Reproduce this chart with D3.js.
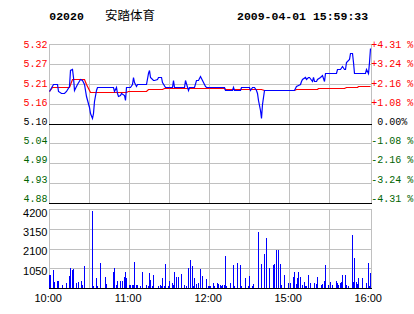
<!DOCTYPE html>
<html><head><meta charset="utf-8">
<script src="https://cdn.jsdelivr.net/npm/d3@7"></script>
<style>body{margin:0;background:#fff}svg{display:block}</style>
</head><body><div id="chart"></div>
<script>
const stockCode = "02020";
const stockName = "安踏体育";
const stamp = "2009-04-01 15:59:33";
const prevClose = 5.10;
const priceTicks = ["5.32","5.27","5.21","5.16","5.10","5.04","4.99","4.93","4.88"];
const pctTicks = ["+4.31 %","+3.24 %","+2.16 %","+1.08 %"," 0.00%","-1.08 %","-2.16 %","-3.24 %","-4.31 %"];
const volTicks = ["4200","3150","2100","1050"];
const timeLabels = ["10:00","11:00","12:00","15:00","16:00"];
const timeLabelMin = [0, 60, 120, 180, 240];

// minute index (0 = 10:00) and price
const priceMin = [0,3,6,7,9,11,13,15,16,17,18,19,21,23,25,26,27,28,30,31,32,33,34,35,36,48,49,50,51,52,53,54,56,57,58,61,62,63,64,65,66,73,74,75,76,78,79,
81,82,84,85,87,92,93,94,101,102,104,105,109,110,112,113,115,117,118,131,132,137,138,139,143,144,150,151,152,154,155,156,157,158,159,160,161,
184,185,187,188,189,190,192,193,194,195,197,198,199,200,201,203,205,206,207,215,216,218,220,221,222,223,225,226,227,228,229,237,238,239,240,241];
const price = [5.19,5.21,5.21,5.189,5.184,5.184,5.19,5.205,5.248,5.25,5.23,5.193,5.21,5.223,5.22,5.21,5.193,5.175,5.147,5.128,5.115,5.13,5.161,5.193,5.202,5.202,5.19,5.202,5.184,5.175,5.18,5.184,5.18,5.165,5.202,5.202,5.21,5.23,5.215,5.205,5.21,5.21,5.239,5.248,5.23,5.22,5.219,
5.223,5.23,5.23,5.215,5.202,5.202,5.219,5.202,5.202,5.219,5.193,5.202,5.202,5.219,5.219,5.232,5.219,5.205,5.202,5.202,5.193,5.193,5.202,5.193,5.193,5.202,5.202,5.193,5.202,5.202,5.193,5.184,5.165,5.138,5.115,5.155,5.193,
5.193,5.204,5.207,5.21,5.218,5.222,5.23,5.222,5.23,5.23,5.218,5.23,5.218,5.218,5.222,5.23,5.233,5.218,5.239,5.239,5.25,5.25,5.259,5.25,5.25,5.269,5.278,5.296,5.296,5.269,5.241,5.241,5.25,5.241,5.27,5.31];

const avgMin = [0,2,15,17,26,28,31,58,59,73,74,85,86,125,126,131,132,159,161,184,185,201,202,220,221,223,231,232,241];
const avg = [5.19,5.202,5.202,5.223,5.223,5.21,5.186,5.186,5.19,5.19,5.195,5.195,5.197,5.197,5.199,5.199,5.196,5.196,5.193,5.193,5.195,5.195,5.197,5.197,5.199,5.202,5.202,5.205,5.205];

const volMin = [0,1,3,4,6,7,10,13,15,16,17,18,20,22,24,25,26,32,33,35,36,38,42,43,48,49,50,51,53,55,56,57,58,60,61,62,63,64,65,66,68,70,73,74,75,76,77,78,
82,83,84,85,86,87,89,90,92,93,94,95,97,99,101,103,104,106,107,108,109,110,112,113,115,118,119,120,121,
123,124,126,127,128,129,130,131,132,133,136,138,139,141,143,144,147,149,150,152,153,157,159,161,163,165,168,169,170,172,173,174,176,179,181,
183,184,185,186,187,188,190,191,192,193,194,196,199,200,201,204,205,206,207,209,211,212,215,216,217,218,219,220,222,223,224,227,228,229,230,231,232,235,238,239,240,241];
const vol = [708,708,973,301,389,389,142,265,655,1080,973,1009,265,319,389,142,1186,4071,124,531,124,1327,602,230,850,1080,177,389,389,389,602,867,549,177,177,177,177,1398,177,177,124,867,177,106,797,443,124,708,
124,177,124,549,124,1292,124,389,283,177,867,602,602,761,177,124,1080,1504,1186,124,549,230,283,1027,655,496,124,124,124,
283,124,283,230,177,124,177,177,1717,124,283,1239,124,1345,1239,124,549,124,655,124,230,2991,1292,1823,2673,1080,1239,1292,2035,2035,1292,177,708,283,283,
602,867,230,549,867,602,177,336,124,124,708,283,283,230,602,177,230,389,1239,177,336,177,389,283,177,283,336,708,708,177,124,2832,336,1611,336,230,549,549,283,1345,124,814];

const W = 414, H = 314;
const svg = d3.select("#chart").append("svg").attr("width", W).attr("height", H)
  .style("background", "#fff");

const x = d3.scaleLinear().domain([0, 241.5]).range([49, 371]);
const y = d3.scaleLinear().domain([prevClose - 0.22, prevClose + 0.22]).range([203, 44]);
const yv = d3.scaleLinear().domain([0, 4200]).range([288, 209]);
const px = v => Math.round(v) + 0.5;

const GRID = "#C0C0C0";
const gridMins = d3.range(0, 211, 30);

function hline(g, yy, x0, x1, c) {
  g.append("line").attr("x1", x0).attr("x2", x1 + 1).attr("y1", px(yy)).attr("y2", px(yy))
    .attr("stroke", c).attr("stroke-width", 1).attr("shape-rendering", "crispEdges");
}
function vline(g, xx, y0, y1, c) {
  g.append("line").attr("x1", px(xx)).attr("x2", px(xx)).attr("y1", Math.round(y0)).attr("y2", Math.round(y1) + 1)
    .attr("stroke", c).attr("stroke-width", 1).attr("shape-rendering", "crispEdges");
}

// Price panel grid
const gp = svg.append("g");
const pLevels = d3.range(9).map(i => y.domain()[1] - i * (y.domain()[1] - y.domain()[0]) / 8);
const xL = x.range()[0], xR = x.range()[1];
pLevels.forEach((v, i) => { if (i !== 4 && i !== 8) hline(gp, y(v), xL, xR, GRID); });
gridMins.forEach(m => vline(gp, x(m), y.range()[1], y.range()[0], GRID));
vline(gp, xR, y.range()[1], y.range()[0], GRID);
hline(gp, y(pLevels[4]), xL, xR, "#000");
hline(gp, y(pLevels[8]), xL, xR, "#000");

// Volume panel grid
const gv = svg.append("g");
[4200, 3150, 2100, 1050].forEach(v => hline(gv, yv(v), xL, xR, GRID));
gridMins.forEach(m => vline(gv, x(m), yv.range()[1], yv.range()[0], GRID));
vline(gv, xR, yv.range()[1], yv.range()[0], GRID);

// Volume bars
const volData = volMin.map((m, i) => ({ m, v: vol[i] }));
svg.append("g").selectAll("rect").data(volData).join("rect")
  .attr("x", d => Math.round(x(d.m)))
  .attr("width", 1)
  .attr("y", d => Math.round(yv(d.v)))
  .attr("height", d => Math.round(yv(0)) - Math.round(yv(d.v)))
  .attr("fill", "#0000FF")
  .attr("shape-rendering", "crispEdges");
hline(gv, yv(0), xL, xR, "#000");

// Lines
const line = d3.line().x(d => Math.round(x(d.m)) + 0.5).y(d => Math.round(y(d.v)) + 0.5);
const avgData = avgMin.map((m, i) => ({ m, v: avg[i] }));
const priceData = priceMin.map((m, i) => ({ m, v: price[i] }));
svg.append("path").datum(avgData).attr("d", line).attr("fill", "none")
  .attr("stroke", "#FF0000").attr("stroke-width", 1.2);
svg.append("path").datum(priceData).attr("d", line).attr("fill", "none")
  .attr("stroke", "#0000FF").attr("stroke-width", 1.2);

// Price & percentage labels
const labelY = d3.scaleLinear().domain([0, 8]).range([48.3, 201.7]);
const labColor = i => i < 4 ? "#FF0000" : (i === 4 ? "#000000" : "#006400");
svg.append("g").selectAll("text").data(priceTicks).join("text")
  .attr("x", 47.5).attr("y", (d, i) => labelY(i))
  .attr("text-anchor", "end")
  .attr("font-family", "'Liberation Mono', 'DejaVu Sans Mono', monospace")
  .attr("font-size", 10)
  .attr("fill", (d, i) => labColor(i))
  .text(d => d);
svg.append("g").selectAll("text").data(pctTicks).join("text")
  .attr("x", 371.3).attr("y", (d, i) => labelY(i))
  .style("white-space", "pre")
  .attr("font-family", "'Liberation Mono', 'DejaVu Sans Mono', monospace")
  .attr("font-size", 10)
  .attr("fill", (d, i) => labColor(i))
  .text(d => d);

// Volume labels
const vLabelY = d3.scaleLinear().domain([0, 3]).range([216.5, 274.5]);
svg.append("g").selectAll("text").data(volTicks).join("text")
  .attr("x", 47.5).attr("y", (d, i) => vLabelY(i))
  .attr("text-anchor", "end")
  .attr("font-family", "'Liberation Sans', Arial, sans-serif")
  .attr("font-size", 11)
  .attr("fill", "#000")
  .text(d => d);

// Time labels
svg.append("g").selectAll("text").data(timeLabels).join("text")
  .attr("x", (d, i) => x(timeLabelMin[i]) - 0.8).attr("y", 301.7)
  .attr("text-anchor", "middle")
  .attr("font-family", "'Liberation Sans', Arial, sans-serif")
  .attr("font-size", 11)
  .attr("fill", "#000")
  .text(d => d);

// Header
svg.append("text").attr("x", 49.3).attr("y", 20)
  .attr("font-family", "'Liberation Mono', 'DejaVu Sans Mono', monospace")
  .attr("font-weight", "bold").attr("font-size", 11.5).attr("fill", "#000")
  .text(stockCode);
svg.append("text").attr("x", 105).attr("y", 19.5)
  .attr("font-family", "'Noto Sans CJK SC', sans-serif")
  .attr("font-size", 12.5).attr("fill", "#000")
  .text(stockName);
svg.append("text").attr("x", 237).attr("y", 20)
  .attr("font-family", "'Liberation Mono', 'DejaVu Sans Mono', monospace")
  .attr("font-weight", "bold").attr("font-size", 11.5).attr("fill", "#000")
  .text(stamp);
</script>
</body></html>
